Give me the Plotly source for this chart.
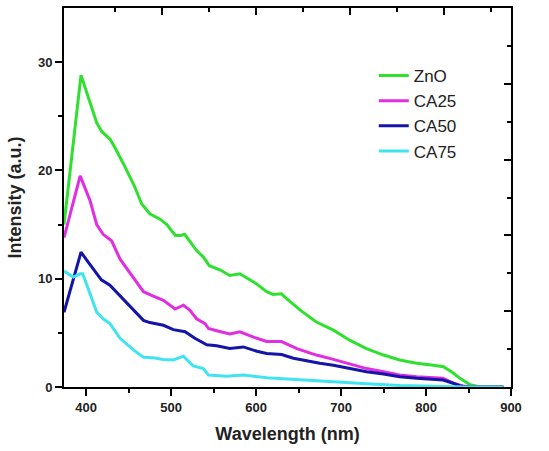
import plotly.graph_objects as go

# ---- data ----
zno_x = [374, 394, 412.5, 418.4, 428, 434, 444, 456, 465.5, 475, 487, 495, 505, 511, 516, 520, 530, 538, 545, 558, 569, 581, 589, 601, 612.5, 620, 630, 636, 652, 671, 691, 710.6, 730, 750, 769, 789, 808.6, 820.4, 830, 840, 852, 863.5, 891]
zno_y = [15.0, 28.8, 24.4, 23.6, 22.9, 22.1, 20.6, 18.7, 16.9, 16.0, 15.5, 15.0, 14.0, 14.0, 14.1, 13.7, 12.6, 12.0, 11.2, 10.8, 10.3, 10.45, 10.1, 9.5, 8.8, 8.55, 8.6, 8.15, 7.1, 6.0, 5.25, 4.3, 3.55, 2.95, 2.5, 2.2, 2.0, 1.87, 1.4, 0.8, 0.2, 0.0, 0.0]

ca25_x = [374, 393, 404.7, 412.5, 420, 430, 440, 452, 467.5, 479, 491, 504.7, 514.5, 522, 530, 540, 544, 553.7, 569, 581, 597, 612.5, 630, 648, 671, 691, 710.6, 730, 750, 769, 789, 820, 832, 843.7, 855.7, 891]
ca25_y = [13.8, 19.5, 17.2, 15.0, 14.1, 13.5, 11.8, 10.45, 8.8, 8.4, 8.0, 7.2, 7.55, 7.1, 6.3, 5.85, 5.4, 5.2, 4.9, 5.1, 4.6, 4.2, 4.2, 3.55, 2.95, 2.55, 2.1, 1.7, 1.4, 1.1, 0.95, 0.8, 0.35, 0.1, 0.0, 0.0]

ca50_x = [374, 394, 402.7, 412.5, 418, 428, 436, 448, 459.6, 467.5, 475, 491, 502.7, 516.5, 528, 542, 553.7, 569, 585, 601, 612.5, 630, 644, 659.6, 675, 691, 710.6, 730, 750, 769, 789, 820, 832, 840, 848, 891]
ca50_y = [6.9, 12.45, 11.5, 10.45, 9.9, 9.4, 8.75, 7.7, 6.8, 6.15, 5.95, 5.7, 5.3, 5.1, 4.5, 3.9, 3.8, 3.55, 3.7, 3.3, 3.1, 3.0, 2.65, 2.4, 2.2, 2.0, 1.7, 1.4, 1.2, 0.95, 0.8, 0.65, 0.35, 0.1, 0.0, 0.0]

ca75_x = [374, 385, 393, 396, 404.7, 412.5, 420, 428, 440, 456, 467.5, 479, 491, 502.7, 514.5, 526, 538, 544, 565.5, 585, 612.5, 652, 691, 730, 769, 808.6, 848, 891]
ca75_y = [10.7, 10.15, 10.45, 10.45, 8.6, 6.9, 6.3, 5.85, 4.5, 3.4, 2.75, 2.7, 2.55, 2.5, 2.85, 1.95, 1.7, 1.1, 1.0, 1.1, 0.85, 0.65, 0.45, 0.3, 0.15, 0.05, 0.0, 0.0]

series_names = ["ZnO", "CA25", "CA50", "CA75"]
series_colors = ["#2fe02f", "#e02ee0", "#1414a8", "#3fe4f0"]

x_ticks = [400, 500, 600, 700, 800, 900]
y_ticks = [0, 10, 20, 30]
top_major = [489.0, 599.6, 710.2, 820.8]
top_minor = [433.7, 544.3, 654.9, 765.5, 876.1]
right_major = [0, 7, 14, 21, 28, 35]
right_minor = [3.5, 10.5, 17.5, 24.5, 31.5]

XR = [374, 900]
YR = [0, 35]

fig = go.Figure()
for xs, ys, name, col in zip([zno_x, ca25_x, ca50_x, ca75_x],
                             [zno_y, ca25_y, ca50_y, ca75_y],
                             series_names, series_colors):
    fig.add_trace(go.Scatter(x=xs, y=ys, mode="lines", name=name,
                             line=dict(color=col, width=3)))

# invisible trace to activate overlay axes
fig.add_trace(go.Scatter(x=[XR[0]], y=[0], xaxis="x2", yaxis="y2",
                         mode="markers", marker=dict(opacity=0),
                         showlegend=False, hoverinfo="skip"))

tickfont = dict(family="Liberation Sans, Arial, sans-serif", size=13, color="#222")
titlefont = dict(family="Liberation Sans, Arial, sans-serif", size=18, color="#222")

fig.update_layout(
    width=549, height=451,
    margin=dict(l=64, r=38, t=6, b=64),
    paper_bgcolor="white", plot_bgcolor="white",
    showlegend=True,
    legend=dict(x=0.693, y=0.868, xanchor="left", yanchor="top",
                bgcolor="rgba(0,0,0,0)",
                font=dict(family="Liberation Sans, Arial, sans-serif", size=17, color="#222"),
                tracegroupgap=0, itemwidth=30),
    xaxis=dict(range=XR, tickvals=x_ticks, ticktext=[f"<b>{v}</b>" for v in x_ticks],
               ticks="outside", ticklen=7, tickwidth=2, tickcolor="black",
               minor=dict(tickvals=[450, 550, 650, 750, 850], ticks="outside",
                          ticklen=4, tickwidth=2, tickcolor="black"),
               showline=True, linecolor="black", linewidth=2, mirror=True,
               showgrid=False, zeroline=False, tickfont=tickfont,
               title=dict(text="<b>Wavelength (nm)</b>", font=titlefont, standoff=14)),
    yaxis=dict(range=YR, tickvals=y_ticks, ticktext=[f"<b>{v}</b>" for v in y_ticks],
               ticks="outside", ticklen=7, tickwidth=2, tickcolor="black",
               minor=dict(tickvals=[5, 15, 25], ticks="outside",
                          ticklen=4, tickwidth=2, tickcolor="black"),
               showline=True, linecolor="black", linewidth=2, mirror=True,
               showgrid=False, zeroline=False, tickfont=tickfont,
               title=dict(text="<b>Intensity (a.u.)</b>", font=titlefont, standoff=12)),
    xaxis2=dict(overlaying="x", side="top", range=XR, tickvals=top_major,
                showticklabels=False, ticks="inside", ticklen=7, tickwidth=2,
                tickcolor="black",
                minor=dict(tickvals=top_minor, ticks="inside", ticklen=4,
                           tickwidth=2, tickcolor="black"),
                showline=False, showgrid=False, zeroline=False),
    yaxis2=dict(overlaying="y", side="right", range=YR, tickvals=right_major,
                showticklabels=False, ticks="inside", ticklen=7, tickwidth=2,
                tickcolor="black",
                minor=dict(tickvals=right_minor, ticks="inside", ticklen=4,
                           tickwidth=2, tickcolor="black"),
                showline=False, showgrid=False, zeroline=False),
)

fig.write_html("out.html")
